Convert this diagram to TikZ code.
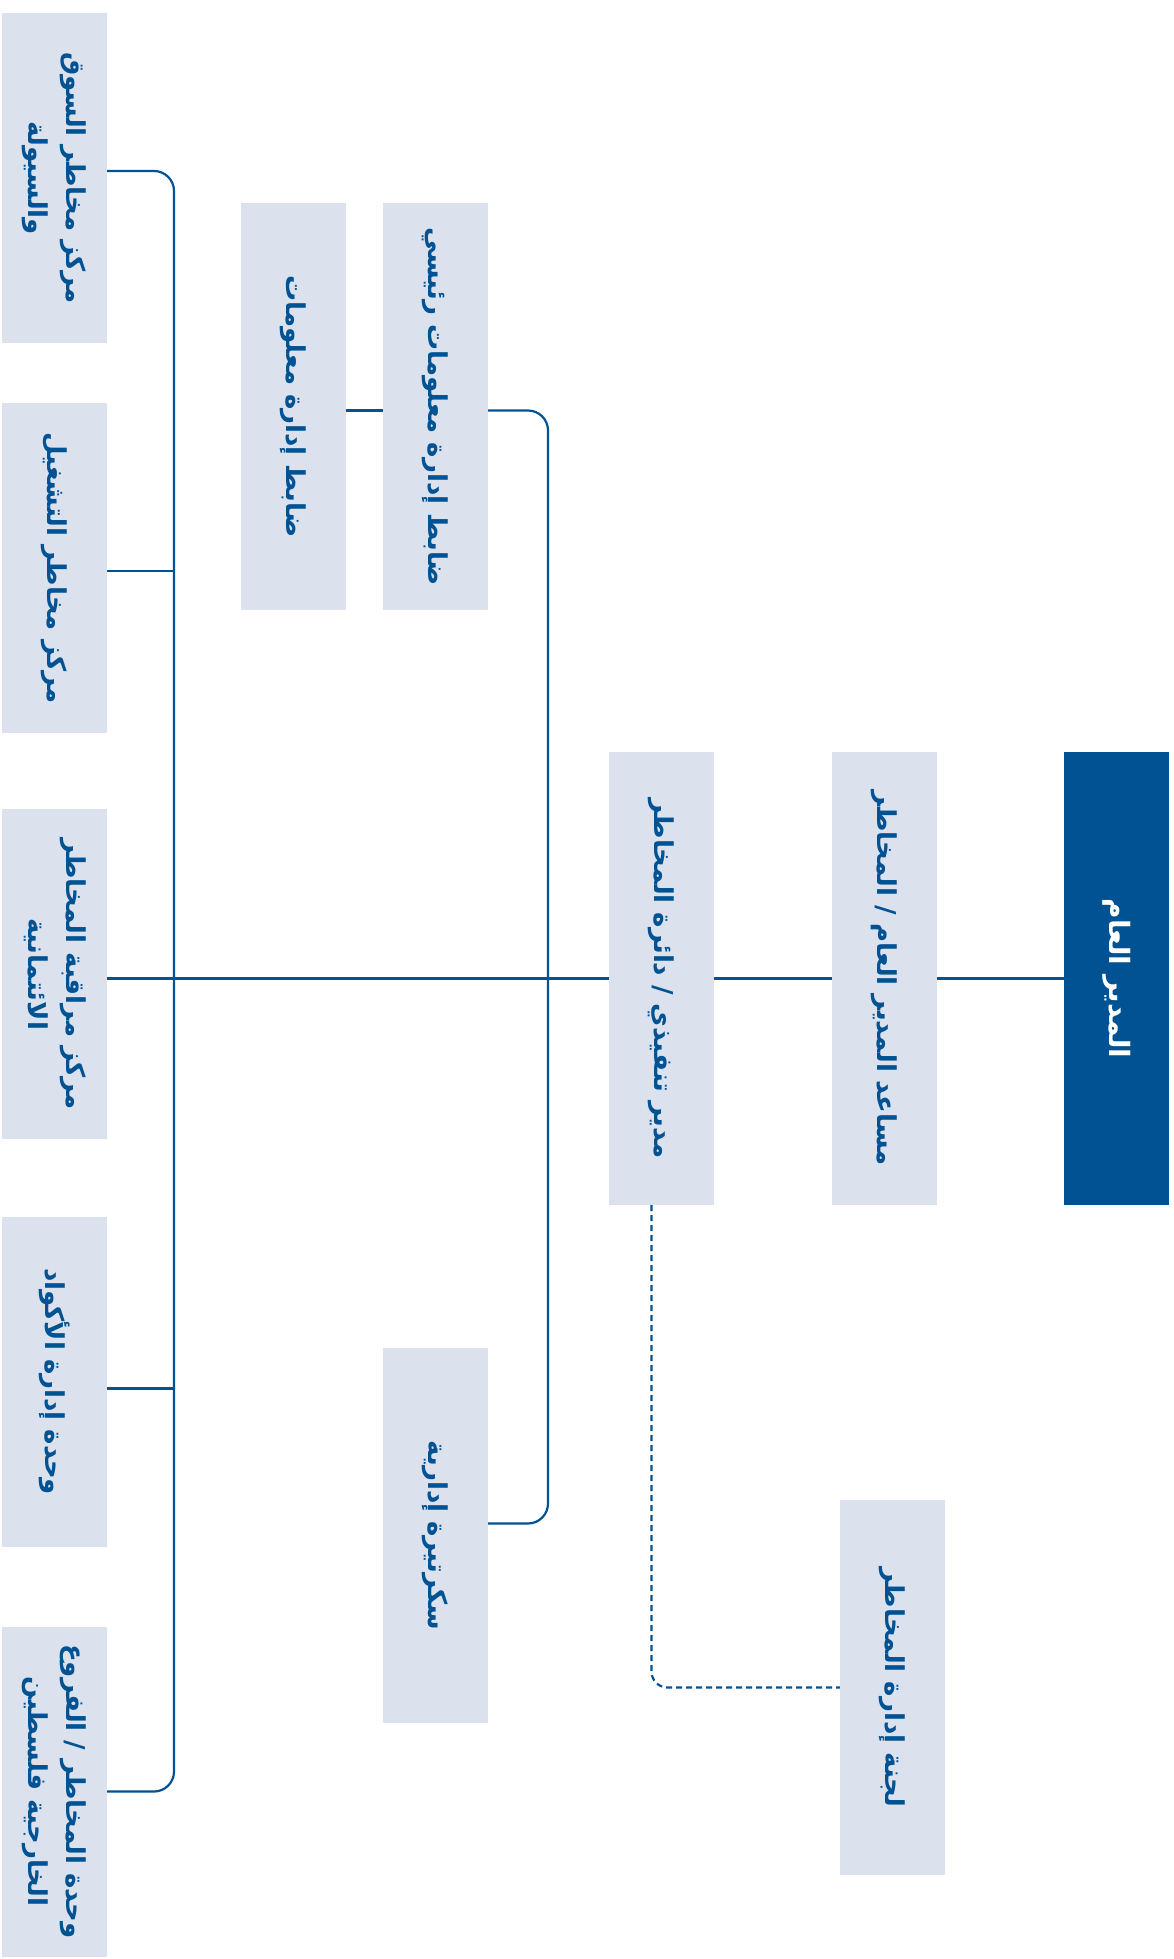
\documentclass[tikz,border=0pt]{standalone}
\usepackage{fontspec}
\usepackage{graphicx}
\usepackage{tikz}
\usetikzlibrary{calc}
\TeXXeTstate=1
\newfontfamily\arabicfont[Script=Arabic]{DejaVu Sans}
\definecolor{orgblue}{RGB}{0,82,147}
\definecolor{orgfill}{RGB}{220,225,238}
% one line / two lines of arabic, turned a quarter clockwise
\newcommand{\arline}[2][26]{\rotatebox{-90}{\arabicfont\bfseries\fontsize{#1}{36}\selectfont #2}}
\newcommand{\artwo}[2]{\rotatebox{-90}{\arabicfont\bfseries\fontsize{26}{36}\selectfont
  \begin{tabular}{@{}c@{}}#1\\[2pt]#2\end{tabular}}}

\begin{document}
\begin{tikzpicture}[x=1pt, y=-1pt,
    unit/.style={rectangle, fill=orgfill, text=orgblue, inner sep=0pt,
      minimum width=105pt},
    head/.style={unit, fill=orgblue, text=white},
    link/.style={draw=orgblue, line width=2.2pt}]
  \useasboundingbox (0,0) rectangle (1173,1959);

  % top of the chart
  \node[head, minimum height=453pt] (gm) at (1116.5,978.5) {\arline[28]{\beginR المدير العام\endR}};
  \node[unit, minimum height=453pt] (agm) at (884.5,978.5) {\arline{\beginR مساعد المدير العام / المخاطر\endR}};
  \node[unit, minimum height=453pt] (exec) at (661.5,978.5) {\arline{\beginR مدير تنفيذي / دائرة المخاطر\endR}};
  \node[unit, minimum height=375pt] (cmt) at (892.5,1687.5) {\arline{\beginR لجنة إدارة المخاطر\endR}};

  % office of the executive
  \node[unit, minimum height=407pt] (cio) at (435.5,406.5) {\arline{\beginR ضابط إدارة معلومات رئيسي\endR}};
  \node[unit, minimum height=407pt] (io) at (293.5,406.5) {\arline{\beginR ضابط إدارة معلومات\endR}};
  \node[unit, minimum height=375pt] (sec) at (435.5,1535.5) {\arline{\beginR سكرتيرة إدارية\endR}};

  % centres and units
  \node[unit, minimum height=330pt] (m1) at (54.5,178) {\artwo{\beginR مركز مخاطر السوق\endR}{\beginR والسيولة\endR}};
  \node[unit, minimum height=330pt] (m2) at (54.5,568) {\arline{\beginR مركز مخاطر التشغيل\endR}};
  \node[unit, minimum height=330pt] (m3) at (54.5,974) {\artwo{\beginR مركز مراقبة المخاطر\endR}{\beginR الائتمانية\endR}};
  \node[unit, minimum height=330pt] (m4) at (54.5,1381.5) {\arline{\beginR وحدة إدارة الأكواد\endR}};
  \node[unit, minimum height=330pt] (m5) at (54.5,1791.5) {\artwo{\beginR وحدة المخاطر / الفروع\endR}{\beginR الخارجية فلسطين\endR}};

  \coordinate (lbus) at (174,978.5);
  \coordinate (rbus) at (548,978.5);

  \draw[link] (gm) -- (agm);
  \draw[link] (agm) -- (exec);
  \draw[link] (exec.west) -- (exec.west -| m3.east);
  \draw[link, rounded corners=20pt] ([yshift=7pt]m1.east) -| (lbus) |- (m5.east);
  \draw[link] ([yshift=-3pt]m2.east) -- ([yshift=-3pt]m2.east -| lbus);
  \draw[link] ([yshift=-7pt]m4.east) -- ([yshift=-7pt]m4.east -| lbus);
  \draw[link, rounded corners=20pt] ([yshift=-4pt]cio.east) -| (rbus) |- ([yshift=12pt]sec.east);
  \draw[link] ([yshift=-4pt]io.east) -- ([yshift=-4pt]cio.west);
  \draw[link, dash pattern=on 6pt off 4pt, rounded corners=16pt]
    ([xshift=-10pt]exec.south) |- (cmt.west);
\end{tikzpicture}
\end{document}
